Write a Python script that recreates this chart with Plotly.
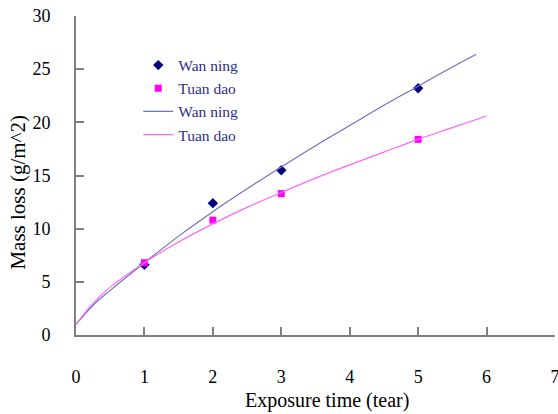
import plotly.graph_objects as go

# Measured points
years = [1, 2, 3, 5]
wan_ning_pts = [6.6, 12.4, 15.5, 23.2]
tuan_dao_pts = [6.8, 10.8, 13.3, 18.4]

# Fitted curves
wan_fit_x = [0, 0.25, 0.5, 1, 1.5, 2, 2.5, 3, 3.5, 4, 4.5, 5, 5.5, 5.85]
wan_fit_y = [1.0, 2.8, 4.2, 6.8, 9.3, 11.6, 13.75, 15.8, 17.8, 19.7, 21.6, 23.4, 25.2, 26.4]
tuan_fit_x = [0, 0.25, 0.5, 1, 1.5, 2, 2.5, 3, 3.5, 4, 4.5, 5, 5.5, 6]
tuan_fit_y = [1.0, 3.0, 4.5, 6.8, 8.75, 10.45, 12.0, 13.4, 14.75, 16.0, 17.2, 18.4, 19.5, 20.6]

x_ticks = [0, 1, 2, 3, 4, 5, 6, 7]
y_ticks = [0, 5, 10, 15, 20, 25, 30]

x_title = "Exposure time (tear)"
y_title = "Mass loss (g/m^2)"

font_family = "Liberation Serif, Times New Roman, serif"

fig = go.Figure()
fig.add_trace(go.Scatter(x=years, y=wan_ning_pts, mode="markers", name="Wan ning",
                         marker=dict(symbol="diamond", size=8, color="#000080")))
fig.add_trace(go.Scatter(x=years, y=tuan_dao_pts, mode="markers", name="Tuan dao",
                         marker=dict(symbol="square", size=7, color="#FF00FF")))
fig.add_trace(go.Scatter(x=wan_fit_x, y=wan_fit_y, mode="lines", name="Wan ning",
                         line=dict(color="#7070C0", width=1.2, shape="spline")))
fig.add_trace(go.Scatter(x=tuan_fit_x, y=tuan_fit_y, mode="lines", name="Tuan dao",
                         line=dict(color="#FF66FF", width=1.2, shape="spline")))

axis_common = dict(showgrid=False, zeroline=False, showline=True, linecolor="#808080",
                   linewidth=2, ticks="inside", ticklen=8, tickcolor="#808080", tickwidth=2,
                   automargin=False, ticklabeloverflow="allow",
                   tickfont=dict(family=font_family, size=18, color="#000000"))

fig.update_layout(
    width=560, height=414,
    margin=dict(l=76, r=5, t=16, b=79),
    paper_bgcolor="white", plot_bgcolor="white",
    font=dict(family=font_family, color="#000000"),
    showlegend=True,
    legend=dict(x=0.13, y=0.898, xanchor="left", yanchor="top",
                bgcolor="rgba(0,0,0,0)", tracegroupgap=0,
                font=dict(family=font_family, size=15.5, color="#2E2E8A")),
    xaxis=dict(range=[0, 7], tickvals=x_ticks, ticklabelstandoff=24, **axis_common),
    yaxis=dict(range=[0, 30], tickvals=y_ticks, ticklabelstandoff=20, **axis_common),
    annotations=[
        dict(text=x_title, xref="paper", yref="paper", x=0.524, y=-0.204,
             xanchor="center", yanchor="middle", showarrow=False,
             font=dict(family=font_family, size=20, color="#000000")),
        dict(text=y_title, xref="paper", yref="paper", x=-0.12, y=0.448,
             xanchor="center", yanchor="middle", showarrow=False, textangle=-90,
             font=dict(family=font_family, size=21, color="#000000")),
    ],
)

fig.write_html(
    "out.html",
    config={"displayModeBar": False},
    post_script="document.body.style.margin='0';document.body.style.overflow='hidden';",
)
